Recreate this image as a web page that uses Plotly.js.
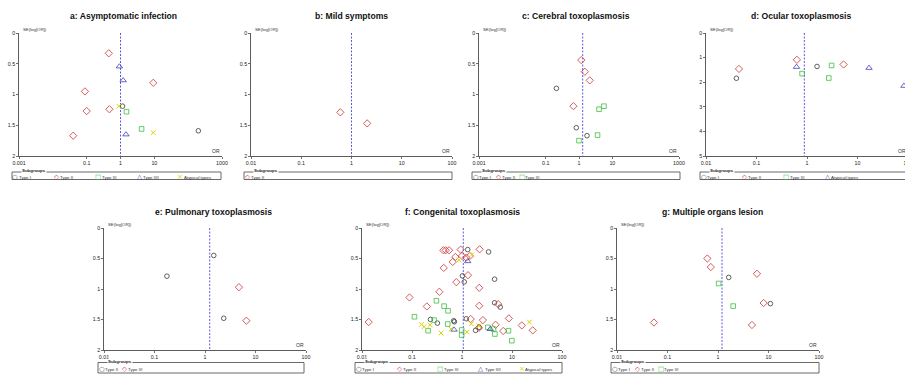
<!DOCTYPE html>
<html><head><meta charset="utf-8">
<script src="https://cdn.plot.ly/plotly-3.0.1.min.js"></script>
<style>html,body{margin:0;padding:0;overflow:hidden;background:#fff}#chart{width:915px;height:375px}</style>
</head><body><div id="chart"></div>
<script>
// ---------- data (OR, SE(log[OR])) ----------
// a: Asymptomatic infection
const a_t1_or=[1.15,200], a_t1_se=[1.19,1.59];
const a_t2_or=[0.45,9.3,0.089,0.10,0.47,0.04], a_t2_se=[0.33,0.81,0.95,1.27,1.24,1.67];
const a_t3_or=[1.5,4.2], a_t3_se=[1.28,1.56];
const a_t4_or=[0.93,1.2,1.45], a_t4_se=[0.545,0.77,1.65];
const a_at_or=[0.89,9.3], a_at_se=[1.19,1.62];
const a_pooled=1.0;
// b: Mild symptoms
const b_t2_or=[0.6,2.05], b_t2_se=[1.29,1.47];
const b_pooled=1.0;
// c: Cerebral toxoplasmosis
const c_t1_or=[0.21,0.83,1.74], c_t1_se=[0.9,1.54,1.67];
const c_t2_or=[1.17,1.5,2.1,0.68], c_t2_se=[0.44,0.63,0.77,1.19];
const c_t3_or=[5.6,4.0,3.6,1.0], c_t3_se=[1.19,1.24,1.66,1.75];
const c_pooled=1.29;
// d: Ocular toxoplasmosis
const d_t1_or=[0.04,1.58], d_t1_se=[1.84,1.36];
const d_t2_or=[0.045,0.63,5.3], d_t2_se=[1.46,1.09,1.28];
const d_t3_or=[0.8,3.07,2.7], d_t3_se=[1.65,1.32,1.83];
const d_at_or=[0.62,16.9,83], d_at_se=[1.38,1.42,2.15];
const d_pooled=0.885;
// e: Pulmonary toxoplasmosis
const e_t2_or=[0.176,1.49,2.35], e_t2_se=[0.79,0.45,1.48];
const e_t3_or=[4.7,6.6], e_t3_se=[0.97,1.52];
const e_pooled=1.24;
// f: Congenital toxoplasmosis
const f_t1_or=[1.3,3.4,1.02,1.11,4.48,4.48,5.81,0.234,0.322,0.682,0.703,1.22,1.87,2.21];
const f_t1_se=[0.354,0.392,0.785,0.883,0.839,1.226,1.297,1.499,1.559,1.52,1.537,1.488,1.678,1.63];
const f_t2_or=[0.424,0.472,0.551,0.94,2.25,0.736,1.0,1.22,1.44,0.652,0.431,1.32,0.77,2.21,0.353,0.089,0.198,2.21,5.3,1.49,2.62,0.0136,8.65,4.69,15.7,6.67,26,2.18];
const f_t2_se=[0.365,0.365,0.365,0.354,0.349,0.474,0.458,0.485,0.458,0.556,0.654,0.774,0.888,0.981,1.046,1.139,1.286,1.275,1.248,1.493,1.51,1.542,1.482,1.586,1.597,1.689,1.678,1.635];
const f_t3_or=[0.308,0.438,0.526,0.112,0.277,0.518,0.21,0.985,0.985,3.3,4.28,4.55,8.5,9.93];
const f_t3_se=[1.193,1.281,1.357,1.455,1.51,1.575,1.684,1.673,1.755,1.629,1.657,1.738,1.684,1.847];
const f_t4_or=[1.3,0.693,3.67], f_t4_se=[0.545,1.668,1.657];
const f_at_or=[0.87,1.58,0.155,0.175,0.23,0.381,0.604,1.26,1.53,2.18,22.3];
const f_at_se=[0.523,0.436,1.58,1.619,1.591,1.722,1.657,1.706,1.569,1.602,1.542];
const f_pooled=1.06;
// g: Multiple organs lesion
const g_t1_or=[1.63,10.9], g_t1_se=[0.81,1.24];
const g_t2_or=[0.615,0.72,5.9,8.0,0.054,4.7], g_t2_se=[0.50,0.64,0.75,1.23,1.55,1.59];
const g_t3_or=[1.03,2.0], g_t3_se=[0.91,1.28];
const g_pooled=1.2;

const ticksWide=[0.001,0.1,1,10,1000];
const ticksStd=[0.01,0.1,1,10,100];
const ticksSE=[0,0.5,1,1.5,2];
const ticksSE5=[0,1,2,3,4,5];

// ---------- styles ----------
const W=915,H=375;
const STY={
  c:{symbol:'circle-open',color:'#3a3a3a',size:4.6,glyph:'\u25CB'},
  d:{symbol:'diamond-open',color:'#cc3333',size:5.6,glyph:'\u25C7'},
  s:{symbol:'square-open',color:'#3fbf3f',size:4.6,glyph:'\u25A1'},
  t:{symbol:'triangle-up-open',color:'#4040b8',size:5.6,glyph:'\u25B3'},
  x:{symbol:'x-thin-open',color:'#dcd400',size:4.6,glyph:'\u00D7'}
};
const rows=[{py:[33,156],leg:[172,179.5],ty:16},{py:[228,350],leg:[362.5,373],ty:212}];

const panels=[
 {title:'a: Asymptomatic infection',px:[19,222],row:0,xr:[-3,3],xt:ticksWide,ymax:2,yt:ticksSE,pooled:a_pooled,tx:123,leg:[12,221],sp:41.2,
  series:[['Type I','c',a_t1_or,a_t1_se],['Type II','d',a_t2_or,a_t2_se],['Type III','s',a_t3_or,a_t3_se],['Type IIII','t',a_t4_or,a_t4_se],['Atypical types','x',a_at_or,a_at_se]]},
 {title:'b: Mild symptoms',px:[251,452],row:0,xr:[-2,2],xt:ticksStd,ymax:2,yt:ticksSE,pooled:b_pooled,tx:351,leg:[244,452],sp:23,
  series:[['Type II','d',b_t2_or,b_t2_se]]},
 {title:'c: Cerebral toxoplasmosis',px:[479,679],row:0,xr:[-3,3],xt:ticksWide,ymax:2,yt:ticksSE,pooled:c_pooled,tx:576,leg:[472,680],sp:23,
  series:[['Type I','c',c_t1_or,c_t1_se],['Type II','d',c_t2_or,c_t2_se],['Type III','s',c_t3_or,c_t3_se]]},
 {title:'d: Ocular toxoplasmosis',px:[706,908],row:0,xr:[-2,2],xt:ticksStd,ymax:5,yt:ticksSE5,pooled:d_pooled,tx:801,leg:[700,912],sp:41.2,
  series:[['Type I','c',d_t1_or,d_t1_se],['Type II','d',d_t2_or,d_t2_se],['Type III','s',d_t3_or,d_t3_se],['Atypical types','t',d_at_or,d_at_se]]},
 {title:'e: Pulmonary toxoplasmosis',px:[104,306],row:1,xr:[-2,2],xt:ticksStd,ymax:2,yt:ticksSE,pooled:e_pooled,tx:213,leg:[98,304],sp:23,
  series:[['Type II','c',e_t2_or,e_t2_se],['Type III','d',e_t3_or,e_t3_se]]},
 {title:'f: Congenital toxoplasmosis',px:[362,562],row:1,xr:[-2,2],xt:ticksStd,ymax:2,yt:ticksSE,pooled:f_pooled,tx:462,leg:[355,562],sp:40.8,
  series:[['Type I','c',f_t1_or,f_t1_se],['Type II','d',f_t2_or,f_t2_se],['Type III','s',f_t3_or,f_t3_se],['Type IIII','t',f_t4_or,f_t4_se],['Atypical types','x',f_at_or,f_at_se]]},
 {title:'g: Multiple organs lesion',px:[617,819],row:1,xr:[-2,2],xt:ticksStd,ymax:2,yt:ticksSE,pooled:g_pooled,tx:712,leg:[611,819],sp:23,
  series:[['Type I','c',g_t1_or,g_t1_se],['Type II','d',g_t2_or,g_t2_se],['Type III','s',g_t3_or,g_t3_se]]}
];

const traces=[], annotations=[], shapes=[];
const layout={
  width:W,height:H,margin:{l:0,r:0,t:0,b:0},showlegend:false,
  paper_bgcolor:'#fff',plot_bgcolor:'#fff',
  font:{family:'Liberation Sans, Arial, sans-serif',size:5.3,color:'#222'},
  annotations:annotations,shapes:shapes
};
const axC='#333';
panels.forEach((p,i)=>{
  const n=i+1, xid=n===1?'x':'x'+n, yid=n===1?'y':'y'+n;
  const xk=n===1?'xaxis':'xaxis'+n, yk=n===1?'yaxis':'yaxis'+n;
  const r=rows[p.row];
  layout[xk]={type:'log',range:p.xr,domain:[p.px[0]/W,p.px[1]/W],anchor:yid,
    tickmode:'array',tickvals:p.xt,ticktext:p.xt.map(String),showline:true,linecolor:axC,linewidth:0.8,
    ticks:'outside',ticklen:2,tickwidth:0.7,tickcolor:axC,showgrid:false,zeroline:false,fixedrange:true};
  layout[yk]={range:[p.ymax,0],domain:[1-r.py[1]/H,1-r.py[0]/H],anchor:xid,
    tickmode:'array',tickvals:p.yt,ticktext:p.yt.map(String),showline:true,linecolor:axC,linewidth:0.8,
    ticks:'outside',ticklen:2,tickwidth:0.7,tickcolor:axC,showgrid:false,zeroline:false,fixedrange:true};
  // pooled estimate line
  traces.push({type:'scatter',mode:'lines',x:[p.pooled,p.pooled],y:[0,p.ymax],xaxis:xid,yaxis:yid,
    line:{color:'#5a5ae0',width:1,dash:'2px,1.5px'},hoverinfo:'skip',cliponaxis:false});
  p.series.forEach(s=>{
    const st=STY[s[1]];
    traces.push({type:'scatter',mode:'markers',name:s[0],x:s[2],y:s[3],xaxis:xid,yaxis:yid,cliponaxis:false,
      marker:{symbol:st.symbol,size:st.size,color:st.color,line:{color:st.color,width:s[1]==='x'?1:0.8}}});
  });
  // titles & labels
  annotations.push({text:'<b>'+p.title+'</b>',xref:'paper',yref:'paper',x:p.tx/W,y:1-r.ty/H,xanchor:'center',yanchor:'middle',
    showarrow:false,font:{size:8.6,color:'#111'}});
  annotations.push({text:'SE(log[OR])',xref:xid+' domain',yref:yid+' domain',x:0,y:1,xanchor:'left',yanchor:'bottom',
    xshift:2,yshift:-1,showarrow:false,font:{size:4.3,color:'#333'}});
  annotations.push({text:'OR',xref:xid+' domain',yref:yid+' domain',x:1,y:0,xanchor:'right',yanchor:'bottom',
    xshift:0,yshift:0,showarrow:false,font:{size:5,color:'#333'}});
  // legend box
  const top=r.leg[0], bot=r.leg[1];
  shapes.push({type:'rect',xref:'paper',yref:'paper',x0:p.leg[0]/W,x1:p.leg[1]/W,y0:1-bot/H,y1:1-top/H,
    line:{color:'#444',width:0.8},fillcolor:'rgba(0,0,0,0)'});
  annotations.push({text:'<b>Subgroups</b>',xref:'paper',yref:'paper',x:(p.leg[0]+9)/W,y:1-(top-1)/H,xanchor:'left',yanchor:'middle',
    showarrow:false,bgcolor:'#fff',borderpad:0,font:{size:4.4,color:'#222'}});
  const ey=(top+bot)/2+0.8;
  p.series.forEach((s,k)=>{
    const st=STY[s[1]], sx=p.leg[0]+3.5+k*p.sp;
    annotations.push({text:st.glyph,xref:'paper',yref:'paper',x:sx/W,y:1-ey/H,xanchor:'center',yanchor:'middle',
      showarrow:false,borderpad:0,font:{family:'DejaVu Sans',size:s[1]==='x'?7:6.5,color:st.color}});
    annotations.push({text:s[0],xref:'paper',yref:'paper',x:(sx+2.6)/W,y:1-(ey+0.5)/H,xanchor:'left',yanchor:'middle',
      showarrow:false,borderpad:0,font:{size:4.4,color:'#333'}});
  });
});
Plotly.newPlot('chart',traces,layout,{staticPlot:true,displayModeBar:false});
</script></body></html>
